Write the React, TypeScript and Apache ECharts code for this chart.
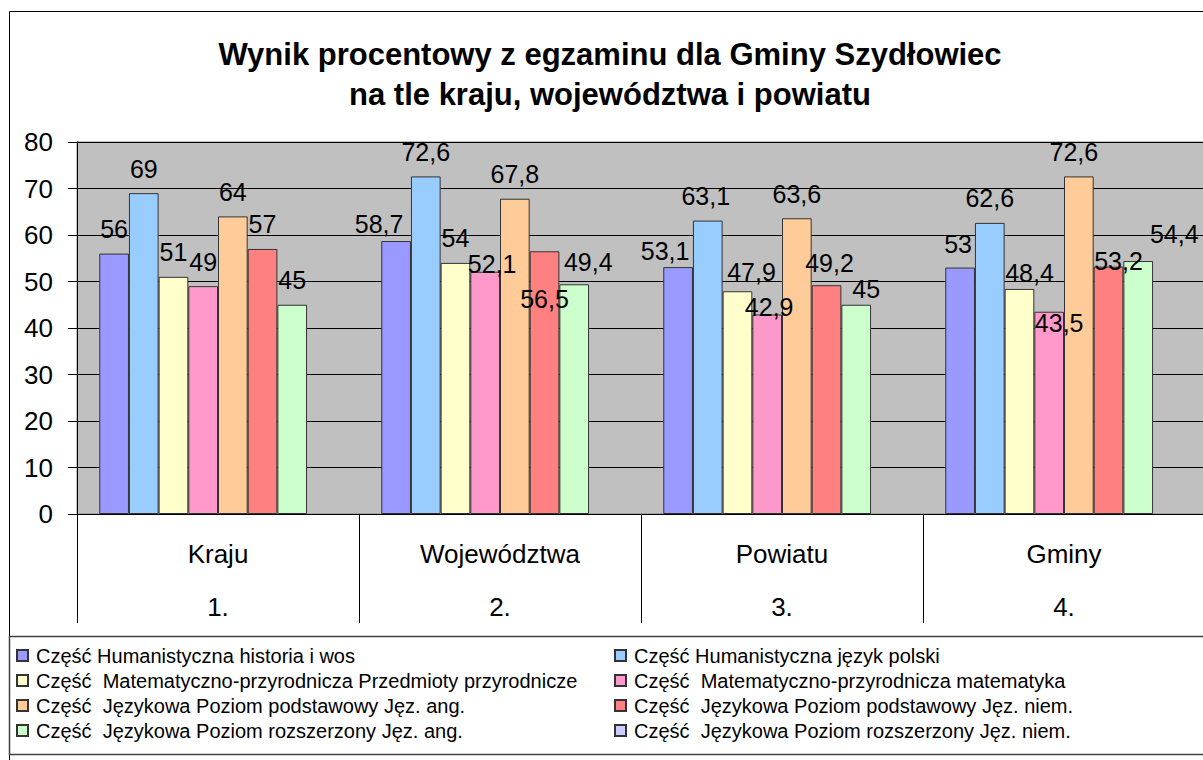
import React, { useEffect, useRef } from "react";
import * as echarts from "echarts";

const FONT = "'Liberation Sans', Arial, sans-serif";

const categories = ["Kraju", "Województwa", "Powiatu", "Gminy"];
const categoryNumbers = ["1.", "2.", "3.", "4."];
const yTicks = [0, 10, 20, 30, 40, 50, 60, 70, 80];

const seriesNames = [
  "Część Humanistyczna historia i wos",
  "Część Humanistyczna język polski",
  "Część  Matematyczno-przyrodnicza Przedmioty przyrodnicze",
  "Część  Matematyczno-przyrodnicza matematyka",
  "Część  Językowa Poziom podstawowy Jęz. ang.",
  "Część  Językowa Poziom podstawowy Jęz. niem.",
  "Część  Językowa Poziom rozszerzony Jęz. ang.",
  "Część  Językowa Poziom rozszerzony Jęz. niem.",
];

const humHistoria = [56, 58.7, 53.1, 53];
const humPolski = [69, 72.6, 63.1, 62.6];
const matPrzyrodnicze = [51, 54, 47.9, 48.4];
const matMatematyka = [49, 52.1, 42.9, 43.5];
const jezPodstAng = [64, 67.8, 63.6, 72.6];
const jezPodstNiem = [57, 56.5, 49.2, 53.2];
const jezRozszAng = [45, 49.4, 45, 54.4];
const jezRozszNiem: (number | null)[] = [null, null, null, null];

const seriesValues = [
  humHistoria,
  humPolski,
  matPrzyrodnicze,
  matMatematyka,
  jezPodstAng,
  jezPodstNiem,
  jezRozszAng,
  jezRozszNiem,
];

const seriesColors = [
  "#9999FF",
  "#99CCFF",
  "#FFFFCC",
  "#FF99CC",
  "#FFCC99",
  "#FF8080",
  "#CCFFCC",
  "#CCCCFF",
];

// label nudges (dx, dy) per series, per category, as placed in the original
const labelNudge: [number, number][][] = [
  [[0, 0], [-17, 7], [-13, 8], [-2, 1]],
  [[0, 0], [0, 0], [-2, 0], [0, 0]],
  [[0, 0], [0, 0], [14, 5], [10, 9]],
  [[0, 0], [7, 17], [2, 17], [10, 36]],
  [[0, 0], [0, 0], [0, 0], [-5, 0]],
  [[0, 0], [0, 72], [3, 2], [10, 19]],
  [[0, 0], [14, 2], [10, 9], [36, -3]],
  [[0, 0], [0, 0], [0, 0], [0, 0]],
];

const fmt = (v: number) => String(v).replace(".", ",");

export default function App() {
  const ref = useRef<HTMLDivElement>(null);

  useEffect(() => {
    if (!ref.current) return;
    const chart = echarts.init(ref.current, undefined, { renderer: "svg" });

    const series = seriesNames.map((name, si) => ({
      name,
      type: "bar",
      barGap: "0%",
      barCategoryGap: "15.79%",
      itemStyle: { color: seriesColors[si], borderColor: "#333333", borderWidth: 1 },
      label: {
        show: true,
        position: "top",
        distance: 12,
        fontSize: 25,
        fontFamily: FONT,
        color: "#000",
        formatter: (p: any) => fmt(p.value),
      },
      data: seriesValues[si].map((v, ci) => ({
        value: v,
        label: { offset: labelNudge[si][ci] },
      })),
    }));

    const legendText = {
      fontSize: 20,
      lineHeight: 25,
      color: "#000",
      fontFamily: FONT,
      padding: [0, 0, 0, 3],
    };

    chart.setOption({
      animation: false,
      backgroundColor: "#ffffff",
      title: {
        text: "Wynik procentowy z egzaminu dla Gminy Szydłowiec\nna tle kraju, województwa i powiatu",
        left: "center",
        top: 34,
        padding: 0,
        textStyle: {
          fontSize: 31,
          fontWeight: "bold",
          lineHeight: 40,
          color: "#000",
          fontFamily: FONT,
        },
      },
      legend: [
        {
          data: [0, 2, 4, 6].map((i) => seriesNames[i]),
          orient: "vertical",
          left: 16,
          top: 643,
          padding: 0,
          itemWidth: 11,
          itemHeight: 11,
          itemGap: 0,
          icon: "rect",
          textStyle: legendText,
        },
        {
          data: [1, 3, 5, 7].map((i) => seriesNames[i]),
          orient: "vertical",
          left: 614,
          top: 643,
          padding: 0,
          itemWidth: 11,
          itemHeight: 11,
          itemGap: 0,
          icon: "rect",
          textStyle: legendText,
        },
      ],
      grid: {
        left: 77,
        top: 142,
        right: 15,
        bottom: 246,
        show: true,
        backgroundColor: "#C0C0C0",
        borderColor: "#808080",
        borderWidth: 1,
      },
      xAxis: {
        type: "category",
        data: categories,
        boundaryGap: true,
        axisLine: { show: true, lineStyle: { color: "#000", width: 1 } },
        axisTick: { show: true, interval: 0, length: 109, lineStyle: { color: "#000" } },
        axisLabel: {
          interval: 0,
          margin: 13,
          fontSize: 26,
          lineHeight: 53,
          color: "#000",
          fontFamily: FONT,
          formatter: (v: string, i: number) => `${v}\n${categoryNumbers[i]}`,
        },
      },
      yAxis: {
        type: "value",
        min: yTicks[0],
        max: yTicks[yTicks.length - 1],
        interval: 10,
        axisLine: { show: true, lineStyle: { color: "#000" } },
        axisTick: { show: true, length: 9, lineStyle: { color: "#000" } },
        axisLabel: { fontSize: 26, margin: 24, color: "#000", fontFamily: FONT },
        splitLine: { show: true, lineStyle: { color: "#000", width: 1 } },
      },
      graphic: [
        {
          type: "rect",
          silent: true,
          z: -10,
          shape: { x: 9.5, y: 11.5, width: 1230, height: 800 },
          style: { fill: "none", stroke: "#000", lineWidth: 1 },
        },
        {
          type: "rect",
          silent: true,
          z: -10,
          shape: { x: 9.5, y: 636.5, width: 1230, height: 118 },
          style: { fill: "none", stroke: "#404040", lineWidth: 1.5 },
        },
      ],
      series,
    });

    return () => chart.dispose();
  }, []);

  return (
    <div
      style={{
        position: "fixed",
        left: 0,
        top: 0,
        width: 1203,
        height: 760,
        overflow: "hidden",
        background: "#fff",
      }}
    >
      <div ref={ref} style={{ width: 1220, height: 760 }} />
    </div>
  );
}
